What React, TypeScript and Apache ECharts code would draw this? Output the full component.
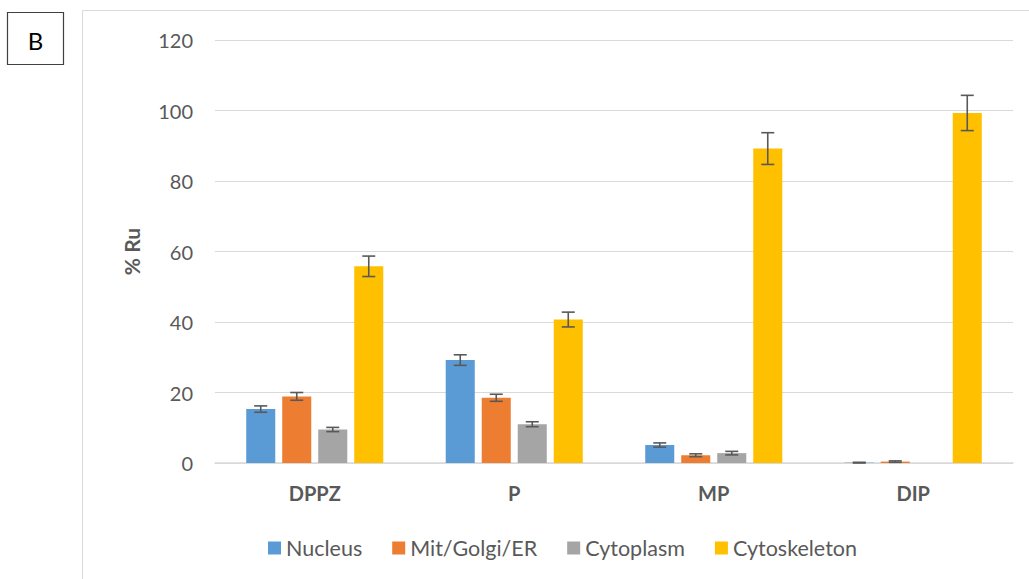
import React, { useEffect, useRef } from "react";
import * as echarts from "echarts";

// Ruthenium distribution across cell fractions per compound
const categories = ["DPPZ", "P", "MP", "DIP"];
const seriesNames = ["Nucleus", "Mit/Golgi/ER", "Cytoplasm", "Cytoskeleton"];
const seriesColors = ["#5B9BD5", "#ED7D31", "#A5A5A5", "#FFC000"];

const nucleus = [15.3, 29.2, 5.1, 0.1];
const nucleusErr = [0.9, 1.5, 0.6, 0.1];
const mitGolgiEr = [18.9, 18.5, 2.2, 0.4];
const mitGolgiErErr = [1.1, 1.0, 0.4, 0.2];
const cytoplasm = [9.5, 11.0, 2.8, 0];
const cytoplasmErr = [0.6, 0.7, 0.5, 0];
const cytoskeleton = [55.8, 40.7, 89.2, 99.3];
const cytoskeletonErr = [2.9, 2.1, 4.5, 5.0];

const yTicks = { min: 0, max: 120, interval: 20 };

const values = [nucleus, mitGolgiEr, cytoplasm, cytoskeleton];
const errors = [nucleusErr, mitGolgiErErr, cytoplasmErr, cytoskeletonErr];

const CAT_GAP = 0.313;
const BAR_GAP = 0.24;
const FONT = "Lato, 'Liberation Sans', sans-serif";
const TEXT = "#595959";

export default function App() {
  const ref = useRef<HTMLDivElement>(null);

  useEffect(() => {
    if (!ref.current) return;
    const chart = echarts.init(ref.current, null, { renderer: "svg" });
    const n = seriesNames.length;

    const barSeries = seriesNames.map((name, i) => ({
      name,
      type: "bar",
      data: values[i],
      barGap: `${BAR_GAP * 100}%`,
      barCategoryGap: `${CAT_GAP * 100}%`,
      itemStyle: { color: seriesColors[i] },
      z: 2,
    }));

    const errSeries = seriesNames.map((name, i) => ({
      name: name + " error",
      type: "custom",
      z: 5,
      encode: { x: 0, y: 1 },
      data: categories.map((_, c) => [c, values[i][c], errors[i][c]]),
      renderItem: (params: any, api: any) => {
        const ci = api.value(0);
        const v = api.value(1);
        const e = api.value(2);
        if (!e) return null;
        const band = api.size([1, 0])[0];
        const groupW = band * (1 - CAT_GAP);
        const w = groupW / (n + (n - 1) * BAR_GAP);
        const pitch = w * (1 + BAR_GAP);
        const off = (i - (n - 1) / 2) * pitch;
        const top = api.coord([ci, v + e]);
        const bot = api.coord([ci, Math.max(0, v - e)]);
        const x = top[0] + off;
        const cap = 6.5;
        const style = { stroke: "#595959", lineWidth: 1.6 };
        return {
          type: "group",
          children: [
            { type: "line", shape: { x1: x, y1: top[1], x2: x, y2: bot[1] }, style },
            { type: "line", shape: { x1: x - cap, y1: top[1], x2: x + cap, y2: top[1] }, style },
            { type: "line", shape: { x1: x - cap, y1: bot[1], x2: x + cap, y2: bot[1] }, style },
          ],
        };
      },
    }));

    chart.setOption({
      animation: false,
      backgroundColor: "#ffffff",
      textStyle: { fontFamily: FONT },
      grid: { left: 215, right: 16, top: 40, bottom: 116, containLabel: false },
      graphic: [
        {
          type: "rect",
          shape: { x: 82.5, y: 10.5, width: 1100, height: 700 },
          style: { fill: "none", stroke: "#d9d9d9", lineWidth: 1 },
          silent: true,
        },
        {
          type: "rect",
          shape: { x: 7.5, y: 12.5, width: 56, height: 52 },
          style: { fill: "#ffffff", stroke: "#404040", lineWidth: 1.2 },
          silent: true,
        },
        {
          type: "text",
          x: 35.5,
          y: 40,
          style: {
            text: "B",
            fontFamily: FONT,
            fontSize: 24,
            fill: "#000000",
            align: "center",
            verticalAlign: "middle",
          },
          silent: true,
        },
      ],
      legend: {
        data: seriesNames,
        left: 263,
        top: 532,
        itemWidth: 13,
        itemHeight: 13,
        itemGap: 30,
        icon: "rect",
        textStyle: { color: TEXT, fontSize: 21.5, fontFamily: FONT, padding: [0, 0, 0, 0] },
      },
      xAxis: {
        type: "category",
        data: categories,
        axisLine: { lineStyle: { color: "#d9d9d9", width: 1.5 } },
        axisTick: { show: false },
        axisLabel: {
          color: TEXT,
          fontSize: 20,
          fontWeight: "bold",
          fontFamily: FONT,
          margin: 20,
        },
      },
      yAxis: {
        type: "value",
        min: yTicks.min,
        max: yTicks.max,
        interval: yTicks.interval,
        name: "% Ru",
        nameLocation: "middle",
        nameGap: 73,
        nameRotate: 90,
        nameTextStyle: { color: TEXT, fontSize: 21, fontWeight: "bold", fontFamily: FONT },
        axisLine: { show: false },
        axisTick: { show: false },
        axisLabel: { color: TEXT, fontSize: 20, fontFamily: FONT, margin: 22 },
        splitLine: { lineStyle: { color: "#d9d9d9", width: 1.2 } },
      },
      series: [...barSeries, ...errSeries],
    });

    return () => chart.dispose();
  }, []);

  return (
    <div
      ref={ref}
      style={{ position: "fixed", left: 0, top: 0, width: 1029, height: 579, background: "#fff" }}
    />
  );
}
